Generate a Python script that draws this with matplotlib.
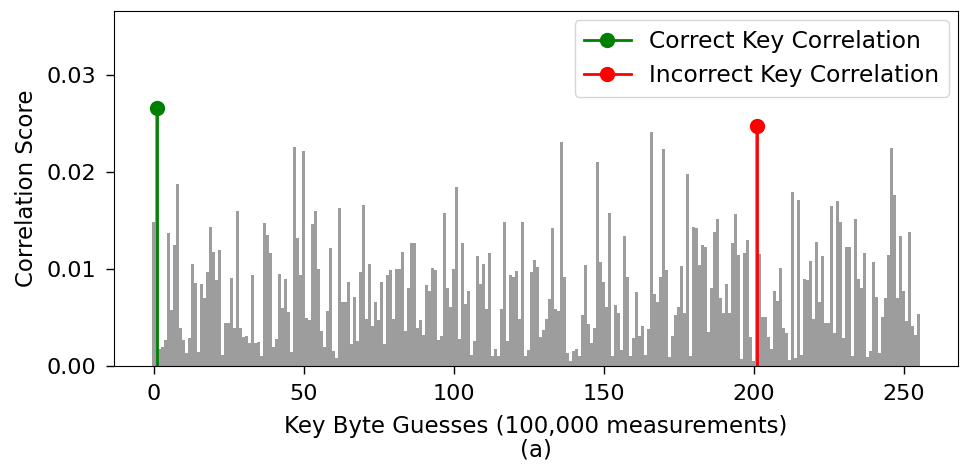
import numpy as np
import matplotlib
matplotlib.use('Agg')
import matplotlib.pyplot as plt

# correlation of each key byte guess (0..255)
scores = [
    0.0149, 0.0266, 0.0017, 0.0020, 0.0027, 0.0137, 0.0058, 0.0125, 0.0188, 0.0039,
    0.0027, 0.0013, 0.0029, 0.0105, 0.0086, 0.0014, 0.0085, 0.0070, 0.0097, 0.0143,
    0.0118, 0.0089, 0.0120, 0.0011, 0.0044, 0.0044, 0.0091, 0.0039, 0.0160, 0.0039,
    0.0030, 0.0031, 0.0024, 0.0094, 0.0024, 0.0025, 0.0010, 0.0147, 0.0135, 0.0117,
    0.0020, 0.0028, 0.0095, 0.0060, 0.0090, 0.0056, 0.0014, 0.0226, 0.0132, 0.0094,
    0.0222, 0.0049, 0.0047, 0.0146, 0.0160, 0.0100, 0.0036, 0.0020, 0.0057, 0.0122,
    0.0015, 0.0008, 0.0163, 0.0066, 0.0066, 0.0087, 0.0023, 0.0071, 0.0026, 0.0097,
    0.0166, 0.0048, 0.0105, 0.0041, 0.0066, 0.0047, 0.0087, 0.0023, 0.0094, 0.0099,
    0.0048, 0.0100, 0.0100, 0.0118, 0.0036, 0.0080, 0.0127, 0.0127, 0.0039, 0.0047,
    0.0032, 0.0083, 0.0077, 0.0101, 0.0099, 0.0027, 0.0031, 0.0158, 0.0080, 0.0061,
    0.0100, 0.0185, 0.0028, 0.0127, 0.0064, 0.0077, 0.0011, 0.0026, 0.0113, 0.0085,
    0.0105, 0.0059, 0.0117, 0.0010, 0.0018, 0.0010, 0.0059, 0.0149, 0.0026, 0.0094,
    0.0092, 0.0098, 0.0048, 0.0149, 0.0010, 0.0016, 0.0097, 0.0109, 0.0102, 0.0030,
    0.0037, 0.0048, 0.0069, 0.0142, 0.0059, 0.0057, 0.0231, 0.0092, 0.0013, 0.0005,
    0.0015, 0.0018, 0.0010, 0.0053, 0.0104, 0.0043, 0.0024, 0.0039, 0.0210, 0.0107,
    0.0087, 0.0061, 0.0158, 0.0010, 0.0063, 0.0055, 0.0016, 0.0134, 0.0092, 0.0010,
    0.0029, 0.0076, 0.0031, 0.0041, 0.0011, 0.0038, 0.0241, 0.0074, 0.0066, 0.0092,
    0.0224, 0.0099, 0.0009, 0.0031, 0.0053, 0.0061, 0.0103, 0.0055, 0.0198, 0.0010,
    0.0143, 0.0142, 0.0104, 0.0125, 0.0123, 0.0035, 0.0080, 0.0138, 0.0152, 0.0070,
    0.0055, 0.0085, 0.0055, 0.0127, 0.0157, 0.0114, 0.0007, 0.0117, 0.0130, 0.0030,
    0.0005, 0.0248, 0.0115, 0.0051, 0.0050, 0.0030, 0.0018, 0.0077, 0.0067, 0.0101,
    0.0039, 0.0034, 0.0006, 0.0179, 0.0008, 0.0171, 0.0011, 0.0090, 0.0089, 0.0108,
    0.0048, 0.0128, 0.0066, 0.0113, 0.0044, 0.0044, 0.0165, 0.0034, 0.0170, 0.0149,
    0.0029, 0.0123, 0.0123, 0.0010, 0.0152, 0.0090, 0.0080, 0.0117, 0.0009, 0.0015,
    0.0107, 0.0071, 0.0013, 0.0051, 0.0070, 0.0114, 0.0225, 0.0176, 0.0070, 0.0134,
    0.0077, 0.0046, 0.0138, 0.0041, 0.0032, 0.0054,
]
correct_key = 1
incorrect_key = 201

guesses = np.arange(len(scores))
scores = np.array(scores)

plt.rcParams['font.family'] = 'DejaVu Sans'
fig = plt.figure(figsize=(9.62, 4.65), dpi=100)
ax = fig.add_axes([0.1185, 0.213, 0.8775, 0.763])

ax.bar(guesses, scores, width=0.8, color='#9d9d9d')

ax.plot([correct_key, correct_key], [0, scores[correct_key]], '-o', color='green',
        lw=2, markersize=10, markevery=[1], label='Correct Key Correlation')
ax.plot([incorrect_key, incorrect_key], [0, scores[incorrect_key]], '-o', color='red',
        lw=2, markersize=10, markevery=[1], label='Incorrect Key Correlation')

ax.set_ylim(0, 0.0366)
ax.set_yticks([0, 0.01, 0.02, 0.03])
ax.set_xticks([0, 50, 100, 150, 200, 250])
ax.tick_params(labelsize=16, length=6, width=1, pad=7)
ax.set_xlabel('Key Byte Guesses (100,000 measurements)\n(a)', fontsize=16.5,
              linespacing=1.0, labelpad=8)
ax.set_ylabel('Correlation Score', fontsize=16.5, labelpad=6)
ax.legend(loc='upper right', fontsize=16.8, handlelength=2, borderaxespad=0.4)

fig.savefig('out.png', dpi=100)
